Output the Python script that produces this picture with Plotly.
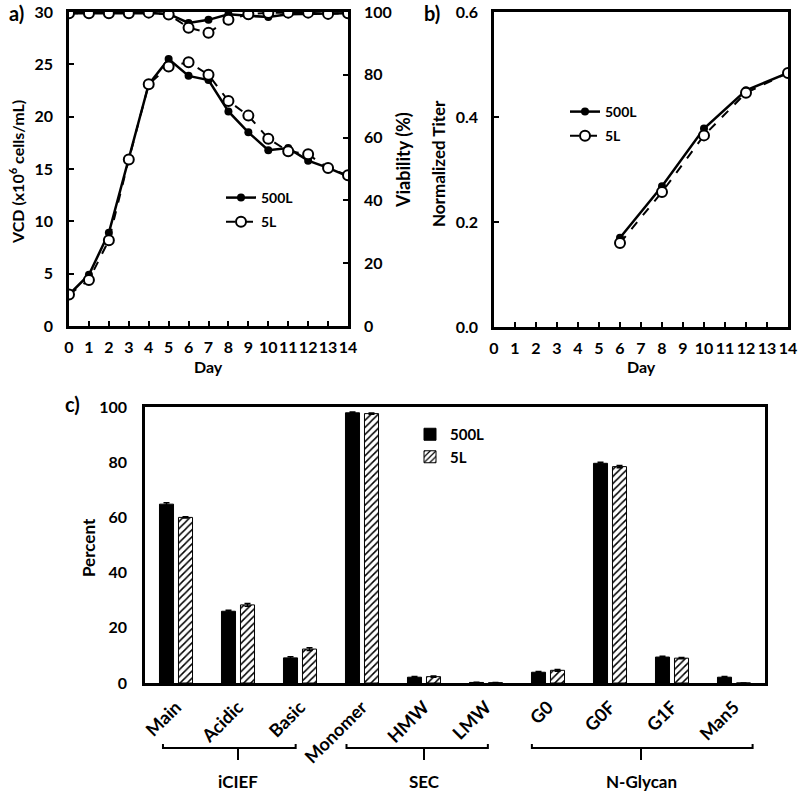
import plotly.graph_objects as go

# ---------------- data ----------------
days = list(range(15))
vcd_500L = [3.0, 4.9, 8.9, 15.9, 23.1, 25.5, 23.9, 23.5, 20.5, 18.5, 16.8, 17.0, 15.8, 15.1, 14.3]
vcd_5L = [3.0, 4.4, 8.2, 15.9, 23.1, 24.8, 25.2, 24.0, 21.5, 20.1, 17.9, 16.7, 16.4, 15.1, 14.4]
via_500L = [99.6, 99.6, 99.6, 99.6, 99.7, 99.4, 96.5, 97.5, 99.3, 98.8, 98.4, 99.3, 99.5, 99.5, 99.6]
via_5L = [99.6, 99.6, 99.6, 99.6, 99.8, 99.2, 95.0, 93.4, 97.5, 99.3, 99.7, 99.8, 99.8, 99.4, 99.6]

titer_days = [6, 8, 10, 12, 14]
titer_500L = [0.170, 0.268, 0.378, 0.451, 0.484]
titer_5L = [0.160, 0.257, 0.365, 0.446, 0.484]

categories = ["Main", "Acidic", "Basic", "Monomer", "HMW", "LMW", "G0", "G0F", "G1F", "Man5"]
pct_500L = [64.8, 26.0, 9.1, 97.9, 2.1, 0.2, 3.9, 79.6, 9.4, 2.1]
pct_5L = [60.0, 28.3, 12.3, 97.6, 2.3, 0.1, 4.6, 78.4, 9.0, 0.0]
err_500L = [0.5, 0.4, 0.4, 0.3, 0.3, 0.05, 0.3, 0.4, 0.3, 0.3]
err_5L = [0.2, 0.5, 0.5, 0.2, 0.2, 0.05, 0.3, 0.4, 0.2, 0.0]

groups = ["iCIEF", "SEC", "N-Glycan"]
group_first = [0, 3, 6]
group_last = [2, 5, 9]
group_left = [-0.21, 2.75, 5.74]
group_right = [1.93, 5.03, 9.3]

# ---------------- helpers ----------------
W, H = 800, 793
FONT = "Lato"
def px(x):
    return x / W
def py(y):
    return 1 - y / H

BLACK = "black"
def bf(size):
    return dict(family=FONT, size=size, color=BLACK, weight="bold")
tickfont = bf(16)

fig = go.Figure()

# ---- panel a ----
fig.add_trace(go.Scatter(x=days, y=vcd_500L, mode="lines+markers", name="500L",
                         line=dict(color=BLACK, width=2.5),
                         marker=dict(symbol="circle", size=8, color=BLACK),
                         xaxis="x", yaxis="y", legend="legend", legendgroup="a1"))
fig.add_trace(go.Scatter(x=days, y=vcd_5L, mode="lines+markers", name="5L",
                         line=dict(color=BLACK, width=2, dash="dash"),
                         marker=dict(symbol="circle", size=10, color="white",
                                     line=dict(color=BLACK, width=2)),
                         xaxis="x", yaxis="y", legend="legend", legendgroup="a2"))
fig.add_trace(go.Scatter(x=days, y=via_500L, mode="lines+markers", name="500L",
                         line=dict(color=BLACK, width=2.5),
                         marker=dict(symbol="circle", size=8, color=BLACK),
                         xaxis="x", yaxis="y2", showlegend=False))
fig.add_trace(go.Scatter(x=days, y=via_5L, mode="lines+markers", name="5L",
                         line=dict(color=BLACK, width=2, dash="dash"),
                         marker=dict(symbol="circle", size=10, color="white",
                                     line=dict(color=BLACK, width=2)),
                         xaxis="x", yaxis="y2", showlegend=False))

# ---- panel b ----
fig.add_trace(go.Scatter(x=titer_days, y=titer_500L, mode="lines+markers", name="500L",
                         line=dict(color=BLACK, width=2.5),
                         marker=dict(symbol="circle", size=8, color=BLACK),
                         xaxis="x2", yaxis="y3", legend="legend2", legendgroup="b1"))
fig.add_trace(go.Scatter(x=titer_days, y=titer_5L, mode="lines+markers", name="5L",
                         line=dict(color=BLACK, width=2, dash="dash"),
                         marker=dict(symbol="circle", size=10, color="white",
                                     line=dict(color=BLACK, width=2)),
                         xaxis="x2", yaxis="y3", legend="legend2", legendgroup="b2"))

# ---- panel c ----
fig.add_trace(go.Bar(x=categories, y=pct_500L, name="500L",
                     marker=dict(color=BLACK, line=dict(color=BLACK, width=1)),
                     error_y=dict(type="data", array=err_500L, color=BLACK, thickness=1.5, width=3),
                     xaxis="x3", yaxis="y4", legend="legend3", legendgroup="c1"))
fig.add_trace(go.Bar(x=categories, y=pct_5L, name="5L",
                     marker=dict(color="white", line=dict(color=BLACK, width=1),
                                 pattern=dict(shape="/", fgcolor=BLACK, bgcolor="white",
                                              size=5, solidity=0.3)),
                     error_y=dict(type="data", array=err_5L, color=BLACK, thickness=1.5, width=3),
                     xaxis="x3", yaxis="y4", legend="legend3", legendgroup="c2"))

axis_common = dict(showline=True, linecolor=BLACK, linewidth=2.5, showgrid=False,
                   zeroline=False, ticks="inside", tickcolor=BLACK, tickwidth=1.5,
                   ticklen=5, tickfont=tickfont, automargin=False)

fig.update_layout(
    width=W, height=H, template="none",
    paper_bgcolor="white", plot_bgcolor="white",
    margin=dict(l=0, r=0, t=0, b=0),
    font=dict(family=FONT, size=16, color=BLACK),
    barmode="group", bargap=0.387, bargroupgap=0.26,
    xaxis=dict(domain=[px(69), px(348)], range=[0, 14], dtick=1, tick0=0, tickangle=0,
               anchor="y", mirror=True, ticklabelstandoff=5, **axis_common),
    yaxis=dict(domain=[py(326), py(12)], range=[0, 30], dtick=5,
               anchor="x", ticklabelstandoff=10, **axis_common),
    yaxis2=dict(domain=[py(326), py(12)], range=[0, 100], dtick=20,
                overlaying="y", side="right", anchor="x", ticklabelstandoff=10,
                **axis_common),
    xaxis2=dict(domain=[px(494), px(788)], range=[0, 14], dtick=1, tick0=0, tickangle=0,
                anchor="y3", mirror=True, ticklabelstandoff=5, **axis_common),
    yaxis3=dict(domain=[py(327), py(12)], range=[0, 0.6], dtick=0.2, tickformat=".1f",
                anchor="x2", mirror=True, ticklabelstandoff=10, **axis_common),
    xaxis3=dict(domain=[px(145), px(765)], range=[-0.5, 9.5], anchor="y4",
                showline=True, linecolor=BLACK, linewidth=2.5, mirror=True,
                showgrid=False, zeroline=False, ticks="", tickangle=-45,
                tickfont=bf(18), automargin=False, ticklabelstandoff=4),
    yaxis4=dict(domain=[py(683), py(407)], range=[0, 100], dtick=20,
                anchor="x3", mirror=True, ticklabelstandoff=12,
                **{**axis_common, "ticks": ""}),
    legend=dict(x=px(221), y=py(182), xanchor="left", yanchor="top",
                bgcolor="rgba(0,0,0,0)", font=bf(14), tracegroupgap=3),
    legend2=dict(x=px(565), y=py(96), xanchor="left", yanchor="top",
                 bgcolor="rgba(0,0,0,0)", font=bf(14), tracegroupgap=3),
    legend3=dict(x=px(410), y=py(418), xanchor="left", yanchor="top",
                 bgcolor="rgba(0,0,0,0)", font=bf(15), tracegroupgap=0),
    showlegend=True,
)

ann = [
    dict(text="a)", x=px(16), y=py(13), font=bf(20)),
    dict(text="b)", x=px(432), y=py(13), font=bf(20)),
    dict(text="c)", x=px(72), y=py(404), font=bf(20)),
    dict(text="VCD (x10<sup>6</sup> cells/mL)", x=px(16), y=py(172), textangle=-90, font=bf(16)),
    dict(text="Viability (%)", x=px(403), y=py(160), textangle=-90, font=bf(18)),
    dict(text="Normalized Titer", x=px(438), y=py(164), textangle=-90, font=bf(17)),
    dict(text="Day", x=px(208), y=py(366), font=bf(16)),
    dict(text="Day", x=px(641), y=py(366), font=bf(16)),
    dict(text="Percent", x=px(88), y=py(548), textangle=-90, font=bf(17)),
]
for a in ann:
    a.update(xref="paper", yref="paper", showarrow=False, xanchor="center", yanchor="middle")
    fig.add_annotation(**a)

# group brackets under panel c
for name, f, l, gl, gr in zip(groups, group_first, group_last, group_left, group_right):
    mid = (f + l) / 2
    fig.add_shape(type="path", xref="x3", yref="paper",
                  path=f"M {gl},{py(744)} L {gl},{py(748)} L {gr},{py(748)} L {gr},{py(744)}",
                  line=dict(color=BLACK, width=2))
    fig.add_shape(type="line", xref="x3", yref="paper", x0=mid, x1=mid,
                  y0=py(748), y1=py(760), line=dict(color=BLACK, width=2))
    fig.add_annotation(text=name, xref="x3", yref="paper", x=mid, y=py(781),
                       showarrow=False, xanchor="center", yanchor="middle", font=bf(17))

fig.write_html("out.html", config={"displayModeBar": False},
               post_script="document.body.style.margin='0px';")
